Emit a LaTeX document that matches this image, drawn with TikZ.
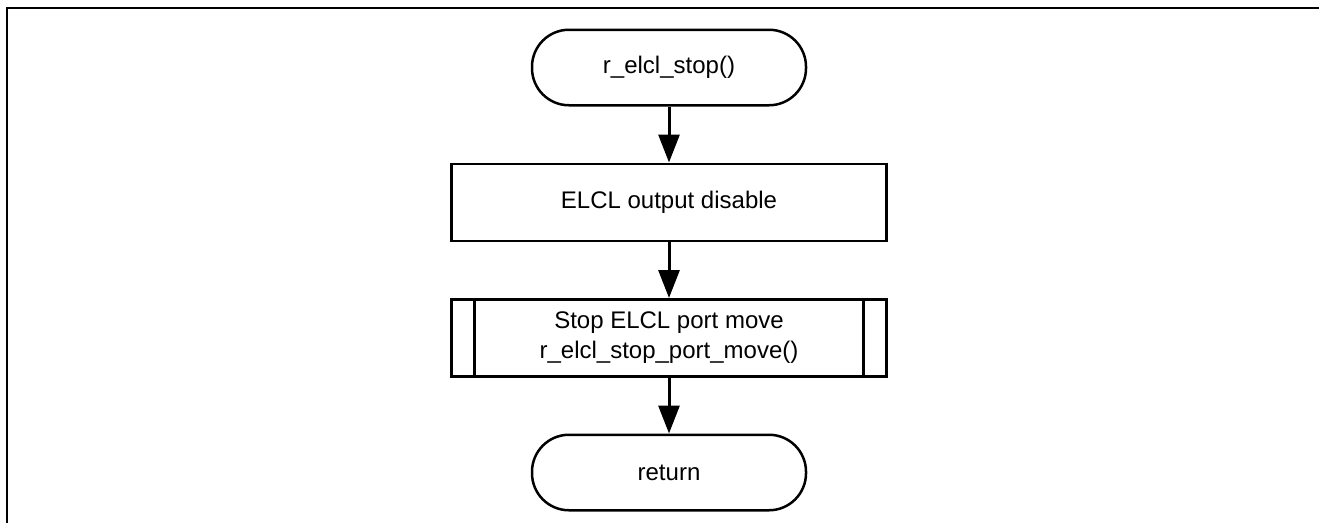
\documentclass[tikz,border=0pt]{standalone}
\usepackage{fontspec}
\setmainfont{Liberation Sans}
\usetikzlibrary{arrows.meta}
\usetikzlibrary{positioning}
\tikzset{
  terminal/.style={rectangle, draw, line width=2.5pt, rounded corners=37pt, minimum width=274pt, minimum height=75.5pt},
  process/.style={rectangle, draw, line width=2.5pt, minimum width=435pt, minimum height=77pt},
  subproc/.style={process, path picture={
      \draw[line width=2.5pt] ([xshift=23pt]path picture bounding box.north west) -- ([xshift=23pt]path picture bounding box.south west);
      \draw[line width=2.5pt] ([xshift=-23pt]path picture bounding box.north east) -- ([xshift=-23pt]path picture bounding box.south east);}},
  arrow/.style={draw, -{Triangle[length=28pt, width=21pt]}, line width=3pt}
  }

\begin{document}
\begin{tikzpicture}[x=1pt, y=1pt, node distance=56pt, font=\fontsize{24}{30}\selectfont]
	\useasboundingbox (0,0) rectangle (1319,-523);
	% Frame
	\draw [line width=2pt] (6.8,-523) -- (6.8,-7.7) -- (1319,-7.7);

	% Nodes
	\node[terminal] (start) at (669,-67.5) {r\_elcl\_stop()};
	\node[process, below = of start] (disable) {ELCL output disable};
	\node[subproc, below = of disable, align=center] (portmove) {Stop ELCL port move\\r\_elcl\_stop\_port\_move()};
	\node[terminal, below = of portmove] (return) {return};

	% Arrow
	\draw [arrow] (start) -- (disable);
	\draw [arrow] (disable) -- (portmove);
	\draw [arrow] (portmove) -- (return);
\end{tikzpicture}
\end{document}
